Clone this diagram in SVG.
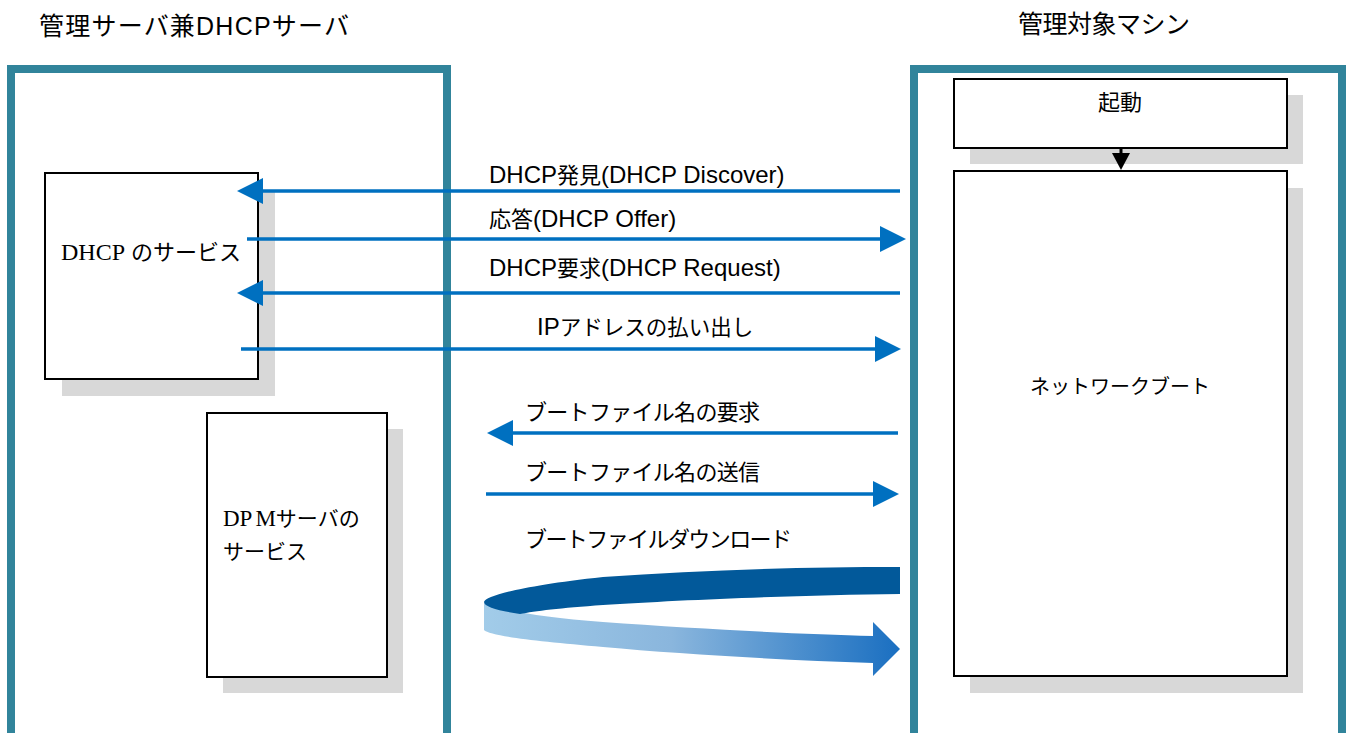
<svg xmlns="http://www.w3.org/2000/svg" width="1346" height="733" viewBox="0 0 1346 733">
<style>
.frame{fill:none;stroke:#31849b;stroke-width:8;stroke-linejoin:miter}
.box{fill:#fff;stroke:#000;stroke-width:2}
.shadow{fill:#d8d8d8}
.t{font-family:"Liberation Sans","Noto Sans CJK JP",sans-serif;fill:#000}
.ts{font-family:"Liberation Serif","Noto Sans CJK JP",serif;fill:#000}
.lat{font-size:24px}
.msg{fill:none;stroke:#0070c0;stroke-width:3.5}
</style>
<defs>
<marker id="ah" markerUnits="userSpaceOnUse" markerWidth="28" markerHeight="28" refX="2" refY="13" orient="auto">
<path d="M0,0 L26,13 L0,26 Z" fill="#0070c0"/>
</marker>
<marker id="ahk" markerUnits="userSpaceOnUse" markerWidth="20" markerHeight="20" refX="1" refY="9" orient="auto">
<path d="M0,0 L17,9 L0,18 Z" fill="#000"/>
</marker>
<linearGradient id="lg" x1="484" y1="0" x2="900" y2="0" gradientUnits="userSpaceOnUse">
<stop offset="0" stop-color="#a2cce9"/>
<stop offset="0.45" stop-color="#8ab6dd"/>
<stop offset="1" stop-color="#1a6fc1"/>
</linearGradient>
</defs>

<text class="t" x="39" y="35" font-size="25" textLength="310">管理サーバ兼DHCPサーバ</text>
<text class="t" x="1018" y="33" font-size="25" textLength="172">管理対象マシン</text>

<g id="server-frame"><path class="frame" d="M11,745 V69 H447 V745"/></g>
<g id="target-frame"><path class="frame" d="M914,745 V69 H1342 V745"/></g>

<g id="dhcp-service">
<rect class="shadow" x="62" y="190" width="213" height="206"/>
<rect class="box" x="45" y="173" width="213" height="206"/>
<text class="ts" x="61" y="260" font-size="22"><tspan font-size="24">DHCP</tspan><tspan dx="6">のサービス</tspan></text>
</g>
<g id="dpm-service">
<rect class="shadow" x="223" y="429" width="180" height="264"/>
<rect class="box" x="207" y="413" width="180" height="264"/>
<text class="ts" x="223" y="526" font-size="21"><tspan font-size="23">DP</tspan><tspan font-size="23" dx="3">M</tspan>サーバの</text>
<text class="ts" x="223" y="559" font-size="21">サービス</text>
</g>
<g id="boot">
<rect class="shadow" x="970" y="95" width="333" height="69"/>
<rect class="box" x="954" y="79" width="333" height="69"/>
<text class="t" x="1120" y="110" font-size="22" text-anchor="middle">起動</text>
</g>
<g id="netboot">
<rect class="shadow" x="970" y="188" width="333" height="505"/>
<rect class="box" x="954" y="171" width="333" height="505"/>
<text class="t" x="1120" y="394" font-size="20" text-anchor="middle">ネットワークブート</text>
</g>

<g id="connectors">
<line x1="1121" y1="149" x2="1121" y2="154" stroke="#000" stroke-width="3" marker-end="url(#ahk)"/>
<line class="msg" x1="900" y1="191" x2="261" y2="191" marker-end="url(#ah)"/>
<line class="msg" x1="247" y1="239" x2="882" y2="239" marker-end="url(#ah)"/>
<line class="msg" x1="900" y1="293" x2="261" y2="293" marker-end="url(#ah)"/>
<line class="msg" x1="241" y1="349" x2="877" y2="349" marker-end="url(#ah)"/>
<line class="msg" x1="898" y1="433" x2="511" y2="433" marker-end="url(#ah)"/>
<line class="msg" x1="486" y1="494" x2="875" y2="494" marker-end="url(#ah)"/>
<path d="M484,603 C500,610 540,617 603,622 C700,629 800,634 873,636 L873,622 L900,649 L873,676 L873,663 C780,660 680,654 603,647 C535,641 490,636 484,630 Z" fill="url(#lg)"/>
<path d="M900,567 L900,594 C800,595 680,600 603,605 C560,608 535,611 520,614 C500,611 484,607 484,602 C486,596 520,586 603,577 C700,570 800,567 900,567 Z" fill="#02599a"/>
</g>

<g id="labels">
<text class="t" x="489" y="183" font-size="22"><tspan class="lat">DHCP</tspan>発見<tspan class="lat">(DHCP Discover)</tspan></text>
<text class="t" x="489" y="227" font-size="22">応答<tspan class="lat">(DHCP Offer)</tspan></text>
<text class="t" x="489" y="276" font-size="22"><tspan class="lat">DHCP</tspan>要求<tspan class="lat">(DHCP Request)</tspan></text>
<text class="t" x="537" y="335" font-size="21.5"><tspan class="lat">IP</tspan>アドレスの払い出し</text>
<text class="t" x="525" y="420" font-size="22" textLength="235">ブートファイル名の要求</text>
<text class="t" x="525" y="480" font-size="22" textLength="235">ブートファイル名の送信</text>
<text class="t" x="525" y="547" font-size="22" textLength="267">ブートファイルダウンロード</text>
</g>
</svg>
